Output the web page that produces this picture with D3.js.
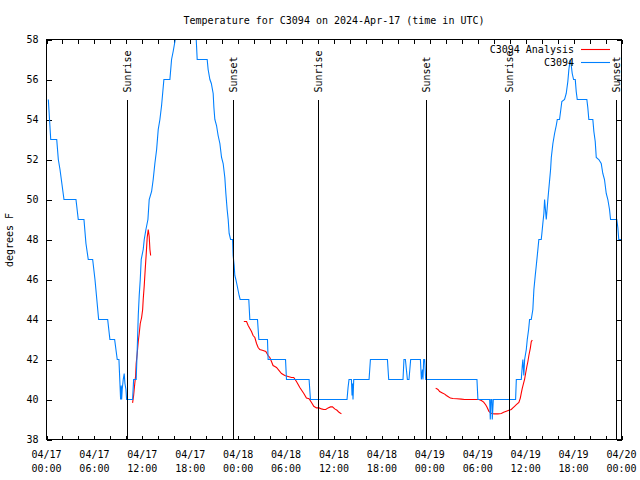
<!DOCTYPE html>
<html><head><meta charset="utf-8">
<script src="https://cdn.jsdelivr.net/npm/d3@7"></script>
<style>
body{margin:0;background:#fff}
svg{display:block}
text{font-family:"DejaVu Sans Mono","Liberation Mono",monospace;font-size:10px;fill:#000}
</style>
</head><body>
<svg id="c" width="640" height="480"></svg>
<script>
// ---- data (hours since 2024-04-17 00:00 UTC) ----
const startDate = "2024-04-17T00:00:00Z";
const endDate = "2024-04-20T00:00:00Z";
const titleText = "Temperature for C3094 on 2024-Apr-17 (time in UTC)";
const yLabel = "degrees F";
const yTicks = [38,40,42,44,46,48,50,52,54,56,58];
const seriesNames = ["C3094 Analysis","C3094"];
const seriesColors = ["#ff0000","#0080ff"];

const obsHours = [0.23,0.53,1.28,1.48,1.69,2.19,3.69,3.98,4.69,4.94,
5.23,5.78,6.07,6.53,7.66,7.94,8.53,8.86,9.07,9.28,
9.36,9.41,9.48,9.61,9.73,9.82,9.95,10.03,10.78,10.91,
11.23,11.36,11.49,11.61,11.74,11.86,12.11,12.24,12.45,12.70,
12.86,13.16,13.36,13.57,13.79,13.99,14.20,14.41,14.70,15.45,
15.66,15.86,16.08,16.29,16.45,18.45,18.70,18.87,20.12,20.24,
20.46,20.64,20.87,20.96,21.08,21.29,21.49,21.71,21.92,22.12,
22.33,22.46,22.62,22.75,22.87,23.05,23.30,23.37,23.50,23.58,
23.71,23.87,24.12,24.25,25.33,25.46,26.42,26.59,27.67,27.75,
29.93,30.05,32.88,33.05,37.63,37.76,37.88,38.18,38.26,38.32,
38.38,38.47,40.39,40.56,42.69,42.85,44.64,44.76,44.94,45.19,
45.39,45.60,46.82,46.94,47.07,47.14,47.23,47.35,47.48,53.90,
54.02,55.49,55.57,55.65,55.77,55.82,55.95,58.74,58.83,59.45,
59.58,59.65,59.77,59.87,60.08,60.20,60.37,60.49,60.70,60.90,
61.03,61.20,61.33,61.53,61.65,61.95,62.03,62.15,62.28,62.37,
62.58,62.78,62.87,63.12,63.21,63.41,63.62,63.83,63.96,64.24,
64.37,64.53,64.87,65.08,65.28,65.41,65.58,65.71,65.83,66.00,
66.21,66.33,66.46,67.66,67.78,67.91,68.41,68.54,68.71,68.84,
69.16,69.46,69.66,69.87,70.09,70.29,70.50,70.63,71.41,71.54,
71.66,72.00];
const obsTemps = [55,53,53,52,51.5,50,50,49,49,47.8,
47,47,46,44,44,43,43,42,42,40,
40.7,40,40.5,41,41.3,40.8,40.5,40,40,41,
41,42.5,44.2,45.2,46,47,47.5,48,48.5,49,
50,50.4,51,51.8,52.5,53.5,54,54.7,56,56,
57,57.4,57.9,58.5,59,59,58.4,57,57,56.5,
56,55.8,55.3,54.6,54,53.7,53.2,52.8,52.1,51.8,
51.1,50.3,49.5,49,48.3,48,48,47.2,46.7,46.2,
46,45.7,45.2,45,45,44,44,43,43,42,
42,41,41,40,40,40.6,41,41,40.2,40.8,
40,41,41,42,42,41,41,42,42,41,
41,42,42,41,41.5,41,42,42,41,41,
40,40,39,40,40,39,40,40,41,41,
41.7,42,41.2,42,42.5,43,43.5,44,44,44.5,
45.5,46.2,46.7,47.5,48,48,48.3,48.8,49.3,50,
49,50,50.4,51.5,52.1,52.8,53.3,53.7,54,54,
54.4,54.9,55,55.3,55.9,56.5,57,56.7,56.3,56,
56,55.4,55,55,54.6,54,54,53.4,52.9,52.1,
52,51.8,51.3,51,50.3,50,49.5,49,49,48.6,
48,48];

// analysis series (null = gap)
const anaHours = [10.78,10.91,11.03,11.16,11.23,11.36,11.49,11.61,11.74,11.91,12.04,12.11,12.24,12.36,12.49,12.61,12.74,12.86,12.95,13.04,
null,
24.71,25.05,25.25,25.46,25.67,25.87,26.09,26.30,26.50,26.71,27.12,27.46,27.75,27.96,28.17,28.37,28.59,28.80,29.43,29.84,
30.25,30.68,30.96,31.30,31.72,32.22,32.55,32.88,33.18,33.47,33.80,34.13,34.43,34.72,34.97,35.26,35.56,35.81,36.09,36.38,36.63,36.93,
null,
48.73,49.02,49.23,49.57,49.86,50.07,50.27,50.57,50.89,51.39,51.95,52.36,52.98,53.61,54.15,54.45,54.74,54.99,55.15,55.40,
55.70,56.11,56.52,56.95,57.24,57.58,57.90,58.20,58.40,58.61,58.83,59.15,59.33,59.45,59.58,59.74,59.87,59.99,60.15,60.28,
60.40,60.58,60.70,60.83];
const anaTemps = [39.83,40.2,40.7,41.2,41.8,42.3,42.9,43.3,43.8,44.1,44.5,45.0,45.7,46.5,47.3,48.1,48.5,48.15,47.5,47.2,
null,
43.9,43.9,43.7,43.55,43.4,43.2,43.1,42.8,42.6,42.5,42.45,42.4,42.2,42.1,41.9,41.7,41.65,41.6,41.3,41.2,
41.15,41.1,41.1,40.9,40.6,40.3,40.07,40.04,39.85,39.66,39.58,39.58,39.53,39.5,39.5,39.58,39.63,39.63,39.53,39.46,39.36,39.28,
null,
40.57,40.5,40.4,40.33,40.27,40.2,40.15,40.07,40.05,40.04,40.02,40.0,40.0,40.0,40.0,39.95,39.87,39.74,39.63,39.41,
39.3,39.28,39.28,39.3,39.36,39.41,39.46,39.5,39.58,39.66,39.74,39.85,40.07,40.32,40.57,40.82,41.02,41.3,41.65,41.9,
42.2,42.56,42.89,42.98];

const sunriseHours = [10.11,34.09,58.03];
const sunsetHours = [23.46,47.52,71.41];
const sunLineTop = 55; // degrees F where marker lines start

// ---- layout ----
const L = 46.5, R = 621.5, T = 39.5, B = 439.5;
const svg = d3.select("#c");
const t0 = new Date(startDate).getTime();
const toDate = h => new Date(t0 + h * 3600000);
const x = d3.scaleUtc().domain([new Date(startDate), new Date(endDate)]).range([L, R]);
const y = d3.scaleLinear().domain([38, 58]).range([B, T]);

svg.append("defs").append("clipPath").attr("id","clip")
  .append("rect").attr("x",L).attr("y",T).attr("width",R-L).attr("height",B-T);

// title
svg.append("text").attr("x",(L+R)/2).attr("y",24).attr("text-anchor","middle").text(titleText);

// axes ticks
function styleAxis(g){ g.select(".domain").remove(); g.selectAll("line").attr("stroke","#000").attr("shape-rendering","crispEdges"); }
svg.append("g").attr("transform",`translate(0,${B})`)
  .call(d3.axisBottom(x).ticks(d3.utcHour.every(2)).tickSize(-4).tickSizeOuter(0).tickFormat(""))
  .call(styleAxis);
svg.append("g").attr("transform",`translate(0,${T})`)
  .call(d3.axisTop(x).ticks(d3.utcHour.every(2)).tickSize(-4).tickSizeOuter(0).tickFormat(""))
  .call(styleAxis);
svg.append("g").attr("transform",`translate(${L},0)`)
  .call(d3.axisLeft(y).tickValues(yTicks).tickSize(-5).tickPadding(8).tickSizeOuter(0))
  .call(styleAxis);
svg.append("g").attr("transform",`translate(${R},0)`)
  .call(d3.axisRight(y).tickValues(yTicks).tickSize(-5).tickSizeOuter(0).tickFormat(""))
  .call(styleAxis);

// x tick labels (two lines)
const fmtD = d3.utcFormat("%m/%d"), fmtT = d3.utcFormat("%H:%M");
const lab = svg.append("g").selectAll("text").data(x.ticks(d3.utcHour.every(6))).join("text")
  .attr("text-anchor","middle");
lab.append("tspan").attr("x",d=>x(d)).attr("y",458).text(d=>fmtD(d));
lab.append("tspan").attr("x",d=>x(d)).attr("y",472).text(d=>fmtT(d));

// y label
svg.append("text").attr("transform","translate(9.5,240) rotate(-90)")
  .attr("text-anchor","middle").attr("dy","0.35em").text(yLabel);

// series
const plot = svg.append("g").attr("clip-path","url(#clip)");
const line = d3.line().defined(d=>d[0]!==null && d[1]!==null).x(d=>x(toDate(d[0]))).y(d=>y(d[1]));
const anaData = anaHours.map((h,i)=>[h, anaTemps[i]]);
const obsData = obsHours.map((h,i)=>[h, obsTemps[i]]);
plot.append("path").attr("d",line(anaData)).attr("fill","none").attr("stroke",seriesColors[0]).attr("stroke-width",1.1);
plot.append("path").attr("d",line(obsData)).attr("fill","none").attr("stroke",seriesColors[1]).attr("stroke-width",1.1);

// sunrise / sunset markers
const events = sunriseHours.map(h=>({h, name:"Sunrise"})).concat(sunsetHours.map(h=>({h, name:"Sunset"})));
const ev = svg.append("g").selectAll("g").data(events).join("g");
ev.append("line").attr("x1",d=>x(toDate(d.h))).attr("x2",d=>x(toDate(d.h)))
  .attr("y1",y(sunLineTop)).attr("y2",B).attr("stroke","#000").attr("stroke-width",1)
  .attr("shape-rendering","crispEdges");
ev.append("text").attr("transform",d=>`translate(${x(toDate(d.h))},${y(sunLineTop)-7}) rotate(-90)`)
  .attr("dy","0.35em").attr("text-anchor","start").text(d=>d.name);

// border
svg.append("rect").attr("x",L).attr("y",T).attr("width",R-L).attr("height",B-T)
  .attr("fill","none").attr("stroke","#000").attr("stroke-width",1).attr("shape-rendering","crispEdges");

// legend
const leg = svg.append("g").selectAll("g").data(seriesNames).join("g");
leg.append("text").attr("x",574).attr("y",(d,i)=>53+i*13).attr("text-anchor","end").text(d=>d);
leg.append("line").attr("x1",581).attr("x2",610).attr("y1",(d,i)=>49.5+i*13).attr("y2",(d,i)=>49.5+i*13)
  .attr("stroke",(d,i)=>seriesColors[i]).attr("stroke-width",1.1);
</script>
</body></html>
